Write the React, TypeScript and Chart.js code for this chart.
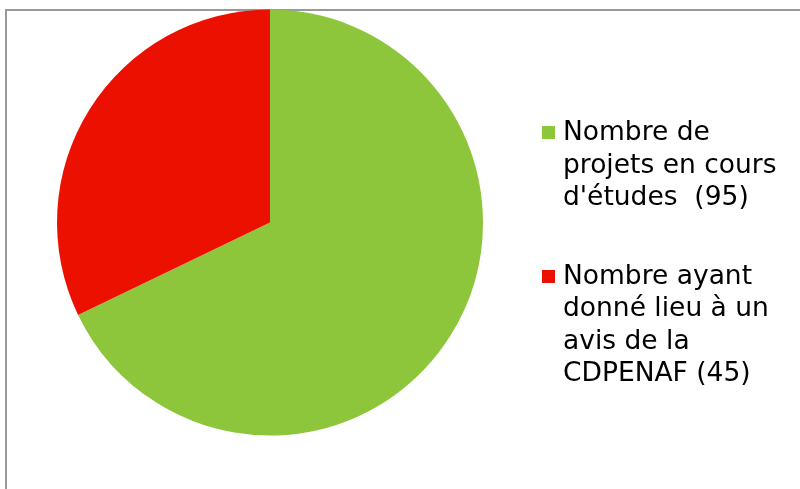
import React, { useEffect, useRef } from "react";
import { Chart, registerables } from "chart.js";

Chart.register(...registerables);

const categories: string[][] = [
  ["Nombre de", "projets en cours", "d'études  (95)"],
  ["Nombre ayant", "donné lieu à un", "avis de la", "CDPENAF (45)"],
];
const values: number[] = [95, 45];
const colors: string[] = ["#8DC63A", "#EC1000"];

export default function App() {
  const ref = useRef<HTMLCanvasElement | null>(null);

  useEffect(() => {
    if (!ref.current) return;
    const chart = new Chart(ref.current, {
      type: "pie",
      data: {
        labels: categories.map((c) => c.join(" ")),
        datasets: [
          {
            data: values,
            backgroundColor: colors,
            borderWidth: 0,
          },
        ],
      },
      options: {
        responsive: false,
        animation: false,
        layout: { padding: { left: 57, right: 317, top: 9.5, bottom: 53.5 } },
        plugins: {
          legend: { display: false },
          tooltip: { enabled: false },
        },
      },
    });
    return () => chart.destroy();
  }, []);

  const textTops = [115.05, 258.6];
  const squareTops = [126, 270];

  return (
    <div style={{ position: "absolute", left: 0, top: 0, width: 800, height: 489, background: "#fff", overflow: "hidden" }}>
      <div
        style={{
          position: "absolute",
          left: 5,
          top: 9,
          width: 820,
          height: 500,
          borderTop: "2px solid #999",
          borderLeft: "2px solid #999",
        }}
      />
      <canvas ref={ref} width={800} height={489} style={{ position: "absolute", left: 0, top: 0 }} />
      {categories.map((lines, i) => (
        <React.Fragment key={i}>
          <div
            style={{
              position: "absolute",
              left: 542,
              top: squareTops[i],
              width: 13,
              height: 13,
              background: colors[i],
            }}
          />
          <div
            style={{
              position: "absolute",
              left: 563,
              top: textTops[i],
              fontFamily: "'DejaVu Sans', Verdana, sans-serif",
              fontSize: 26.5,
              lineHeight: "32.5px",
              color: "#000",
              whiteSpace: "pre",
            }}
          >
            {lines.join("\n")}
          </div>
        </React.Fragment>
      ))}
    </div>
  );
}
